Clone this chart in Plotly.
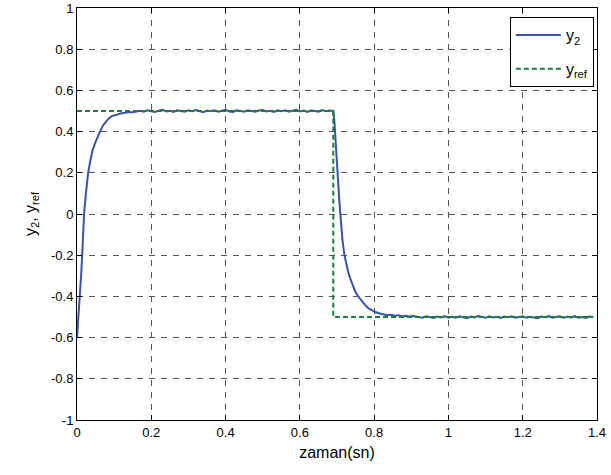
import plotly.graph_objects as go

# y2 response
t_y2 = [0.000, 0.004, 0.008, 0.011, 0.014, 0.016, 0.019, 0.024, 0.030, 0.036,
        0.042, 0.050, 0.056, 0.062, 0.070, 0.078, 0.086, 0.094, 0.102, 0.110,
        0.120, 0.130, 0.140, 0.150, 0.160,
        0.17, 0.18, 0.19, 0.20, 0.21, 0.22, 0.23, 0.24, 0.25, 0.26,
        0.27, 0.28, 0.29, 0.30, 0.31, 0.32, 0.33, 0.34, 0.35, 0.36,
        0.37, 0.38, 0.39, 0.40, 0.41, 0.42, 0.43, 0.44, 0.45, 0.46,
        0.47, 0.48, 0.49, 0.50, 0.51, 0.52, 0.53, 0.54, 0.55, 0.56,
        0.57, 0.58, 0.59, 0.60, 0.61, 0.62, 0.63, 0.64, 0.65, 0.66,
        0.67, 0.68, 0.69,
        0.693, 0.696, 0.699, 0.702, 0.705, 0.708, 0.711, 0.715, 0.720, 0.725,
        0.730, 0.735, 0.740, 0.745, 0.750, 0.757, 0.765, 0.775, 0.785, 0.795,
        0.805, 0.815, 0.825, 0.835, 0.845, 0.855, 0.865, 0.875, 0.885, 0.895,
        0.905,
        0.92, 0.93, 0.94, 0.95, 0.96, 0.97, 0.98, 0.99, 1.00, 1.01,
        1.02, 1.03, 1.04, 1.05, 1.06, 1.07, 1.08, 1.09, 1.10, 1.11,
        1.12, 1.13, 1.14, 1.15, 1.16, 1.17, 1.18, 1.19, 1.20, 1.21,
        1.22, 1.23, 1.24, 1.25, 1.26, 1.27, 1.28, 1.29, 1.30, 1.31,
        1.32, 1.33, 1.34, 1.35, 1.36, 1.37, 1.38, 1.39]
y2 = [-0.60, -0.50, -0.40, -0.30, -0.20, -0.10, 0.00, 0.10, 0.20, 0.26,
      0.31, 0.35, 0.38, 0.40, 0.43, 0.45, 0.465, 0.475, 0.480, 0.486,
      0.489, 0.492, 0.495, 0.494, 0.497,
      0.501, 0.497, 0.503, 0.499, 0.495, 0.502, 0.506, 0.498, 0.501, 0.496,
      0.504, 0.500, 0.497, 0.503, 0.499, 0.505, 0.498, 0.494, 0.502, 0.499,
      0.504, 0.497, 0.501, 0.506, 0.498, 0.495, 0.503, 0.500, 0.497, 0.504,
      0.499, 0.496, 0.502, 0.505, 0.498, 0.501, 0.495, 0.503, 0.499, 0.504,
      0.497, 0.501, 0.506, 0.498, 0.502, 0.496, 0.503, 0.500, 0.497, 0.505,
      0.499, 0.502, 0.500,
      0.45, 0.35, 0.27, 0.19, 0.10, 0.02, -0.06, -0.13, -0.20, -0.247,
      -0.28, -0.31, -0.335, -0.36, -0.38, -0.40, -0.42, -0.44, -0.458, -0.468,
      -0.477, -0.483, -0.487, -0.491, -0.489, -0.494, -0.492, -0.496, -0.494, -0.498,
      -0.495,
      -0.499, -0.503, -0.497, -0.501, -0.505, -0.498, -0.502, -0.496, -0.503, -0.499,
      -0.504, -0.497, -0.501, -0.506, -0.498, -0.502, -0.495, -0.500, -0.504, -0.497,
      -0.502, -0.499, -0.505, -0.498, -0.501, -0.496, -0.503, -0.500, -0.497, -0.504,
      -0.499, -0.502, -0.506, -0.498, -0.501, -0.495, -0.503, -0.500, -0.497, -0.504,
      -0.499, -0.502, -0.496, -0.503, -0.500, -0.505, -0.498, -0.501]

# reference signal
t_ref = [0.0, 0.69, 0.69, 1.39]
y_ref = [0.5, 0.5, -0.5, -0.5]

x_ticks = [0, 0.2, 0.4, 0.6, 0.8, 1.0, 1.2, 1.4]
x_labels = ["0", "0.2", "0.4", "0.6", "0.8", "1", "1.2", "1.4"]
y_ticks = [-1, -0.8, -0.6, -0.4, -0.2, 0, 0.2, 0.4, 0.6, 0.8, 1]
y_labels = ["-1", "-0.8", "-0.6", "-0.4", "-0.2", "0", "0.2", "0.4", "0.6", "0.8", "1"]

FONT = "Liberation Sans, Arial, sans-serif"

fig = go.Figure()
fig.add_trace(go.Scatter(x=t_y2, y=y2, mode="lines", name="y<sub>2</sub>",
                         legendgroup="a",
                         line=dict(color="#3a53a4", width=2)))
fig.add_trace(go.Scatter(x=t_ref, y=y_ref, mode="lines", name="y<sub>ref</sub>",
                         legendgroup="b",
                         line=dict(color="#1b7f3a", width=2, dash="5px,3px")))

axis_common = dict(showline=True, linecolor="black", linewidth=1, mirror="ticks",
                   ticks="inside", ticklen=5, tickcolor="black", automargin=False,
                   showgrid=True, gridcolor="#555555", gridwidth=1, griddash="6px,6px",
                   zeroline=False, tickfont=dict(family=FONT, size=13, color="black"))

fig.update_xaxes(range=[0, 1.4], tickvals=x_ticks, ticktext=x_labels,
                 title=dict(text="zaman(sn)", font=dict(family=FONT, size=16, color="black"),
                            standoff=8),
                 **axis_common)
fig.update_yaxes(range=[-1, 1], tickvals=y_ticks, ticktext=y_labels,
                 title=dict(text="y<sub>2</sub>, y<sub>ref</sub>",
                            font=dict(family=FONT, size=16, color="black"), standoff=10),
                 **axis_common)

fig.update_layout(
    width=611, height=475,
    margin=dict(l=77, r=14, t=8, b=55, autoexpand=False),
    paper_bgcolor="white", plot_bgcolor="white",
    font=dict(family=FONT, color="black"),
    legend=dict(x=0.994, y=0.978, xanchor="right", yanchor="top",
                bgcolor="white", bordercolor="black", borderwidth=1,
                itemwidth=45, tracegroupgap=10,
                font=dict(family=FONT, size=16, color="black")),
)

fig.write_html("out.html")
